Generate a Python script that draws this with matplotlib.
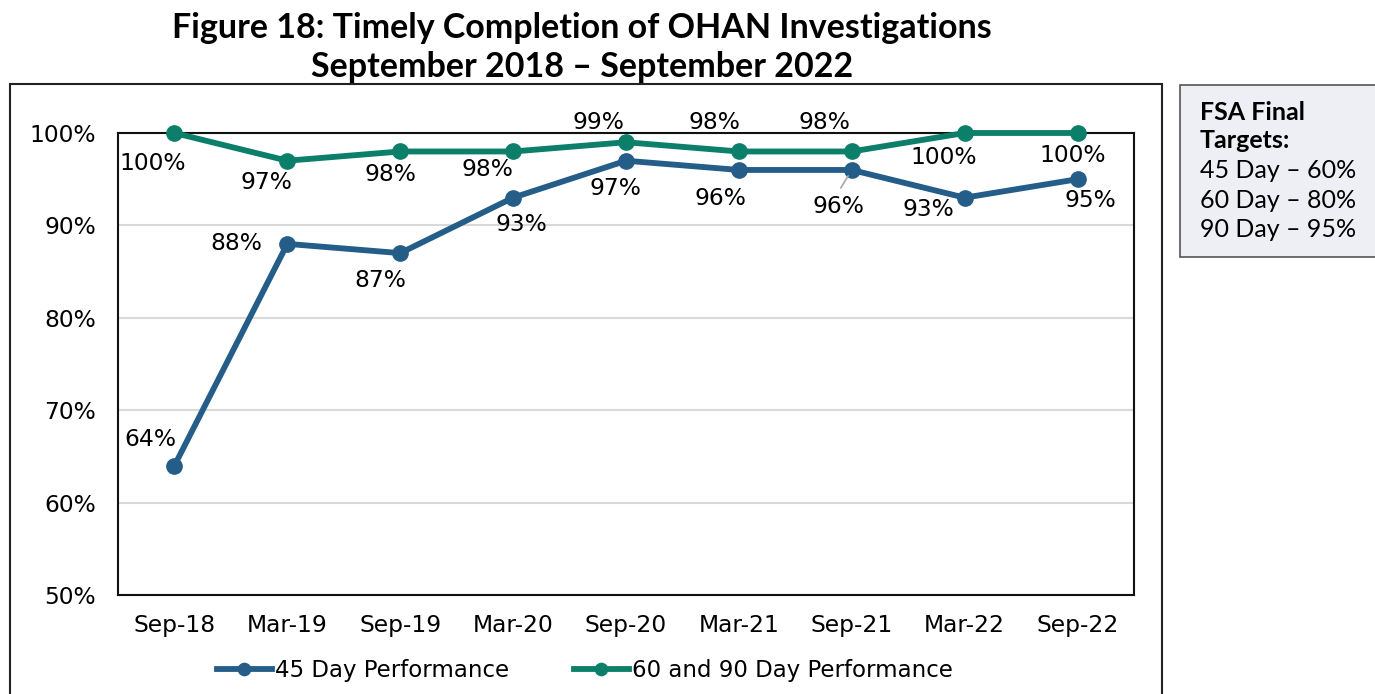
import matplotlib
matplotlib.use("Agg")
import matplotlib.pyplot as plt
from matplotlib.patches import Rectangle

#------Dados do gráfico------#
periodos = ['Sep-18', 'Mar-19', 'Sep-19', 'Mar-20', 'Sep-20', 'Mar-21', 'Sep-21', 'Mar-22', 'Sep-22']
dia45 = [64, 88, 87, 93, 97, 96, 96, 93, 95]
dia60_90 = [100, 97, 98, 98, 99, 98, 98, 100, 100]
yticks = [50, 60, 70, 80, 90, 100]
metas = ['45 Day \u2013 60%', '60 Day \u2013 80%', '90 Day \u2013 95%']

# deslocamento dos rótulos (pixels)
desloc_verde = [(-22, -30), (-21, -22), (-10, -23), (-26, -18), (-28, 20),
                (-24, 29), (-27, 29), (-21, -24), (-5, -22)]
desloc_azul = [(-24, 26), (-51, 0), (-20, -27), (8, -27), (-11, -28),
               (-18, -29), (-13, -37), (-36, -12), (13, -21)]

azul = '#245D88'
verde = '#0B7F69'
fonte = ['DejaVu Sans']

plt.rcParams['font.family'] = ['Lato', 'DejaVu Sans']

fig = plt.figure(figsize=(13.75, 6.94), dpi=100)

# moldura externa do gráfico
fig.patches.append(Rectangle((10 / 1375, -0.1), (1162 - 10) / 1375, 0.1 + 1 - 84 / 694,
                             transform=fig.transFigure, fill=False, edgecolor='#222222', lw=1.5))

# caixa de metas
fig.patches.append(Rectangle((1180 / 1375, 1 - 257 / 694), (1380 - 1180) / 1375, (257 - 85) / 694,
                             transform=fig.transFigure, facecolor='#EDEFF4', edgecolor='#555555', lw=1.2))
fig.text(1200 / 1375, 1 - 112 / 694, 'FSA Final', fontsize=18, fontweight='bold', va='center', ha='left')
fig.text(1200 / 1375, 1 - 141 / 694, 'Targets:', fontsize=18, fontweight='bold', va='center', ha='left')
for i, m in enumerate(metas):
    fig.text(1200 / 1375, 1 - (171 + 29.3 * i) / 694, m, fontsize=18, va='center', ha='left')

# título
fig.text(582 / 1375, 1 - 28 / 694, 'Figure 18: Timely Completion of OHAN Investigations',
         fontsize=24.5, fontweight='bold', ha='center', va='center')
fig.text(582 / 1375, 1 - 67 / 694, 'September 2018 \u2013 September 2022',
         fontsize=24.5, fontweight='bold', ha='center', va='center')

ax = fig.add_axes([118 / 1375, 1 - 595 / 694, (1134 - 118) / 1375, (595 - 133) / 694])
x = list(range(len(periodos)))

l1, = ax.plot(x, dia45, color=azul, lw=4.2, marker='o', ms=11, zorder=3,
              label='45 Day Performance', clip_on=False)
l2, = ax.plot(x, dia60_90, color=verde, lw=4.2, marker='o', ms=11, zorder=3,
              label='60 and 90 Day Performance', clip_on=False)

for i in x:
    ax.annotate(f'{dia60_90[i]}%', (i, dia60_90[i]), xytext=desloc_verde[i],
                textcoords='offset pixels', ha='center', va='center', fontsize=16.8,
                family=fonte, annotation_clip=False)
    ax.annotate(f'{dia45[i]}%', (i, dia45[i]), xytext=desloc_azul[i],
                textcoords='offset pixels', ha='center', va='center', fontsize=16.8,
                family=fonte)

# linha de chamada do rótulo Sep-21
ax.annotate('', (6, dia45[6]), xytext=(-11, -18), textcoords='offset pixels',
            arrowprops=dict(arrowstyle='-', color='#A6A6A6', lw=1.2, shrinkA=0, shrinkB=5))

ax.set_xlim(-0.5, len(periodos) - 0.5)
ax.set_ylim(50, 100)
ax.set_yticks(yticks)
ax.set_yticklabels([f'{v}%' for v in yticks], family=fonte)
ax.set_xticks(x)
ax.set_xticklabels(periodos, family=fonte)
ax.tick_params(axis='both', length=0, labelsize=16.8)
ax.tick_params(axis='y', pad=16)
ax.tick_params(axis='x', pad=14)
ax.grid(axis='y', color='#D9D9D9', lw=1.5)
ax.set_axisbelow(True)
for s in ax.spines.values():
    s.set_color('#111111')
    s.set_linewidth(1.5)

fig.legend(handles=[l1, l2], loc='center', bbox_to_anchor=(585 / 1375, 1 - 671 / 694),
           ncol=2, frameon=False, handlelength=2.4, columnspacing=2.8, markerscale=0.8,
           handletextpad=0.15, prop={'family': ['DejaVu Sans'], 'size': 16.5})

fig.savefig('out.png', dpi=100)
